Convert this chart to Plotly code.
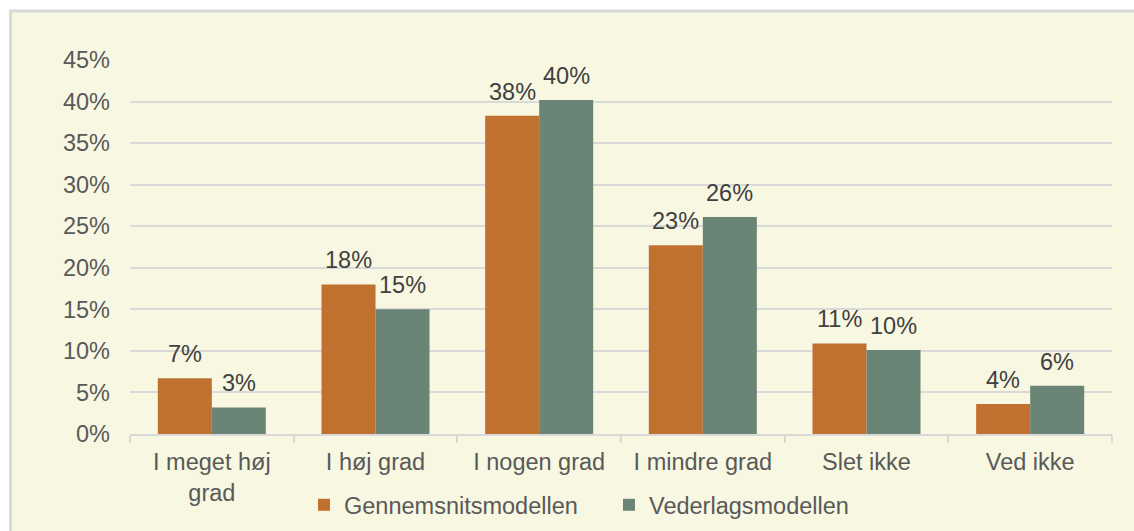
import plotly.graph_objects as go

categories = ["I meget høj<br>grad", "I høj grad", "I nogen grad", "I mindre grad", "Slet ikke", "Ved ikke"]
series_names = ["Gennemsnitsmodellen", "Vederlagsmodellen"]
gennemsnit = [0.067, 0.180, 0.383, 0.227, 0.109, 0.036]
vederlag = [0.032, 0.150, 0.402, 0.261, 0.101, 0.058]
y_ticks = [0, 0.05, 0.10, 0.15, 0.20, 0.25, 0.30, 0.35, 0.40, 0.45]

colors = ["#C0702F", "#6A8576"]
bg = "#F8F7E1"
grid = "#D9D9D9"
font_fam = "Liberation Sans, Arial, sans-serif"
bargap = 0.34
FS = 23.5

# body margin is removed in the page, so the figure fills the window from (0, 0)
PAGE_W, PAGE_H = 1134, 531
plot_l, plot_r, plot_t, plot_b = 130, 1112, 60, 434
W, H = PAGE_W, PAGE_H
ml, mr, mt, mb = plot_l, PAGE_W - plot_r, plot_t, PAGE_H - plot_b
pw, ph = plot_r - plot_l, plot_b - plot_t

def px_x(p):
    return (p - plot_l) / pw

def px_y(p):
    return (plot_b - p) / ph

fig = go.Figure()
for name, vals, col in zip(series_names, [gennemsnit, vederlag], colors):
    fig.add_trace(go.Bar(x=categories, y=vals, name=name, marker=dict(color=col, line=dict(width=0))))

annotations = []
off = (1 - bargap) / 4
for s, vals in enumerate([gennemsnit, vederlag]):
    for i, v in enumerate(vals):
        annotations.append(dict(
            x=i + (-off if s == 0 else off), y=v, xref="x", yref="y",
            text=f"{round(v*100):.0f}%", showarrow=False, yanchor="bottom",
            yshift=9, font=dict(family=font_fam, size=FS, color="#404040")))

shapes = [dict(type="rect", xref="paper", yref="paper", layer="below",
               x0=px_x(10.5), x1=px_x(1160), y0=px_y(560), y1=px_y(11),
               fillcolor=bg, line=dict(color=grid, width=3))]

fig.update_layout(
    width=W, height=H,
    margin=dict(l=ml, r=mr, t=mt, b=mb, pad=0, autoexpand=False),
    paper_bgcolor="white", plot_bgcolor="rgba(0,0,0,0)",
    barmode="group", bargap=bargap, bargroupgap=0,
    font=dict(family=font_fam, size=FS, color="#595959"),
    showlegend=True,
    legend=dict(orientation="h", x=px_x(304), xanchor="left", y=px_y(483), yanchor="top",
                entrywidth=260, entrywidthmode="pixels",
                font=dict(family=font_fam, size=FS, color="#595959"),
                bgcolor="rgba(0,0,0,0)", itemclick=False, traceorder="normal"),
    annotations=annotations,
    shapes=shapes,
)
fig.update_yaxes(range=[0, 0.45], tickvals=y_ticks, tickformat=".0%",
                 showgrid=True, gridcolor=grid, gridwidth=2, zeroline=False,
                 showline=False, ticks="", ticklabelstandoff=19, automargin=False,
                 tickfont=dict(size=FS, color="#595959"))
fig.update_xaxes(type="category", showline=True, linecolor=grid, linewidth=2,
                 ticks="outside", tickson="boundaries", ticklen=7, tickcolor=grid, tickwidth=2,
                 ticklabelstandoff=6, automargin=False,
                 tickfont=dict(size=FS, color="#595959"), showgrid=False)

fig.write_html("out.html", config={"displayModeBar": False},
               post_script="document.body.style.margin='0';document.body.style.overflow='hidden';")
